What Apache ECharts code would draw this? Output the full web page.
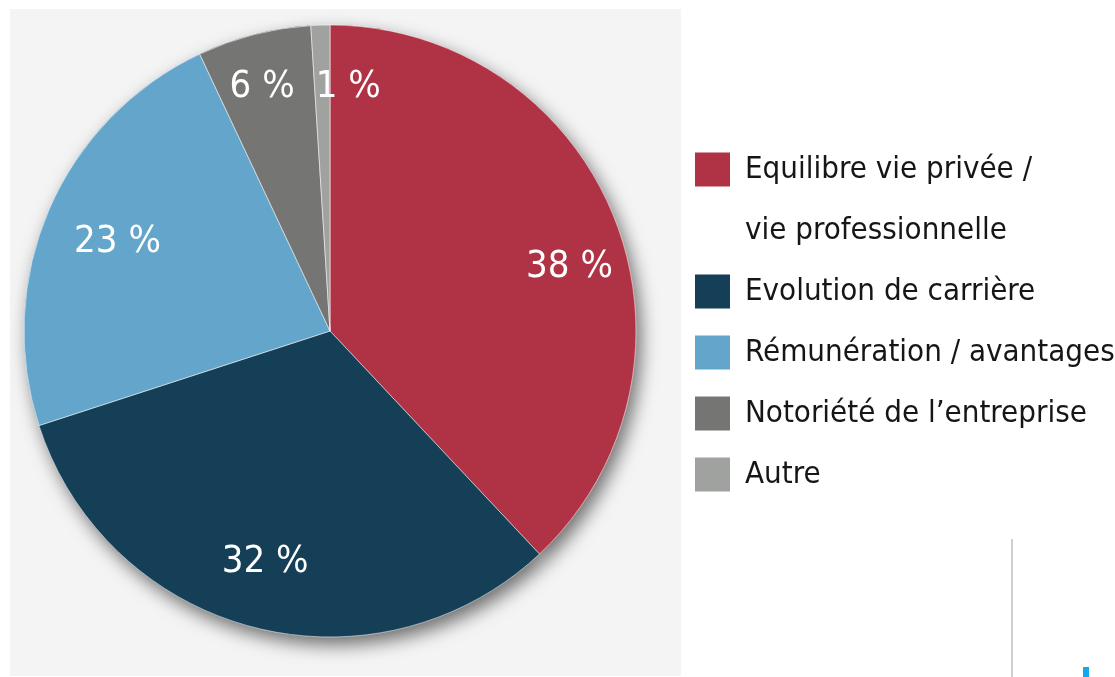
<!DOCTYPE html>
<html>
<head>
    <meta charset="utf-8">
    <title>Critères</title>
    <script src="https://cdn.jsdelivr.net/npm/echarts@6/dist/echarts.min.js"></script>
    <style>
        html, body { margin: 0; padding: 0; background: #ffffff; }
    </style>
</head>
<body>
<div id="main" style="width: 1115px;height:677px;"></div>
<script type="text/javascript">
    // données du camembert
    var categories = ['Equilibre vie privée / vie professionnelle', 'Evolution de carrière', 'Rémunération / avantages', 'Notoriété de l\u2019entreprise', 'Autre'];
    var legendLabels = [' \nEquilibre vie privée /\nvie professionnelle', 'Evolution de carrière', 'Rémunération / avantages', 'Notoriété de l\u2019entreprise', 'Autre'];
    var values = [38, 32, 23, 6, 1];
    var colors = ['#b03245', '#143f57', '#63a5cb', '#757673', '#a0a29f'];
    // décalage des étiquettes (px) par rapport au milieu de l'anneau
    var labelOffsets = [[8, 28], [-3, -10], [16, 10], [-6, -3], [26, 5]];

    var font = '"Liberation Sans Narrow", "DejaVu Sans Condensed", "Liberation Sans", sans-serif';
    var center = [330, 331];

    var pieData = [];
    var labelData = [];
    for (var i = 0; i < values.length; i++) {
        pieData.push({name: categories[i], value: values[i], itemStyle: {color: colors[i]}});
        labelData.push({name: categories[i], value: values[i], label: {offset: labelOffsets[i]}});
    }

    var option = {
        backgroundColor: '#ffffff',
        animation: false,
        graphic: [
            {type: 'rect', z: 0, shape: {x: 10, y: 9, width: 671, height: 667}, style: {fill: '#f4f4f4'}},
            {type: 'line', z: 0, shape: {x1: 1012, y1: 539, x2: 1012, y2: 677}, style: {stroke: '#cfcfcf', lineWidth: 2}},
            {type: 'rect', z: 0, shape: {x: 1083, y: 667, width: 6, height: 10}, style: {fill: '#14a8ee'}}
        ],
        legend: {
            orient: 'vertical',
            left: 695,
            top: 78,
            padding: 0,
            itemWidth: 35,
            itemHeight: 34,
            itemGap: 0,
            icon: 'rect',
            selectedMode: false,
            itemStyle: {borderWidth: 0},
            formatter: function (name) {
                return legendLabels[categories.indexOf(name)];
            },
            textStyle: {
                fontFamily: font,
                fontSize: 31,
                color: '#161616',
                lineHeight: 61,
                padding: [0, 0, 0, 10]
            },
            data: categories
        },
        series: [
            {
                name: 'parts',
                type: 'pie',
                z: 2,
                center: center,
                radius: [0, 306],
                startAngle: 90,
                silent: true,
                label: {show: false},
                labelLine: {show: false},
                itemStyle: {borderColor: 'rgba(255,255,255,0.55)', borderWidth: 1},
                data: pieData
            },
            {
                name: 'ombre',
                type: 'pie',
                z: 1,
                center: center,
                radius: [0, 306],
                startAngle: 90,
                silent: true,
                label: {show: false},
                labelLine: {show: false},
                itemStyle: {
                    shadowBlur: 18,
                    shadowOffsetX: 5,
                    shadowOffsetY: 8,
                    shadowColor: 'rgba(0,0,0,0.55)'
                },
                data: pieData
            },
            {
                name: 'etiquettes',
                type: 'pie',
                z: 3,
                center: center,
                radius: [186, 306],
                startAngle: 90,
                silent: true,
                avoidLabelOverlap: false,
                itemStyle: {color: 'rgba(0,0,0,0)', borderWidth: 0},
                labelLine: {show: false},
                label: {
                    show: true,
                    position: 'inside',
                    formatter: '{c} %',
                    color: '#ffffff',
                    fontFamily: font,
                    fontSize: 38
                },
                data: labelData
            }
        ]
    };

    var myChart = echarts.init(document.getElementById('main'));
    myChart.setOption(option);
</script>
</body>
</html>
